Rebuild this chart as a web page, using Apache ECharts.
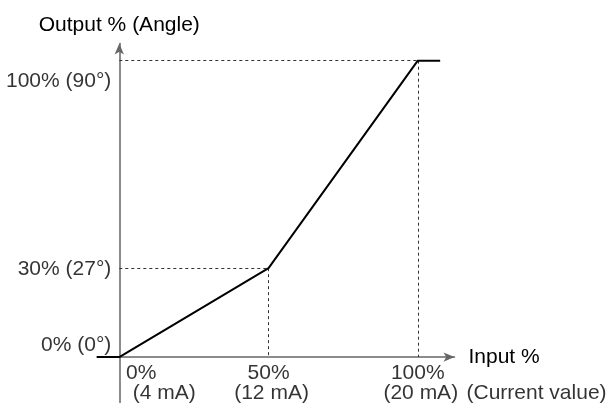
<!DOCTYPE html>
<html>
<head>
<meta charset="utf-8">
<script src="https://cdn.jsdelivr.net/npm/echarts@6/dist/echarts.min.js"></script>
<style>
html,body{margin:0;padding:0;background:#fff;}
#c{width:611px;height:403px;}
</style>
</head>
<body>
<div id="c"></div>
<script>
// ---- data ----
const inputPct = [-7.5, 0, 50, 100, 107.5];
const outputPct = [0, 0, 30, 100, 100];
const guidePoints = [[50, 30], [100, 100]];
const xTicks = [0, 50, 100];
const xTickPct = ['0%', '50%', '100%'];
const xTickMA = ['(4 mA)', '(12 mA)', '(20 mA)'];
const yTicks = [0, 30, 100];
const yTickLabels = ['0% (0°)', '30% (27°)', '100% (90°)'];
const xName = 'Input %';
const xName2 = '(Current value)';
const yName = 'Output % (Angle)';

// ---- styles ----
const FONT = "'Liberation Sans', Arial, Helvetica, sans-serif";
const FS = 21;
const X_MIN = -7.5, X_MAX = 112.3, Y_MIN = -15.5, Y_MAX = 105.8;
const yLabelDy = [-12, 1, 21];
const xPctDx = [22, 0, 0];
const xMADx = [45, 3, 3];

const chart = echarts.init(document.getElementById('c'));

const labelData = [];
yTicks.forEach((v, i) => labelData.push({
  value: [0, v],
  label: { show: true, formatter: yTickLabels[i], position: 'left', distance: 8, offset: [0, yLabelDy[i]] }
}));
xTicks.forEach((v, i) => {
  labelData.push({
    value: [v, 0],
    label: { show: true, formatter: xTickPct[i], position: 'inside', offset: [xPctDx[i], 16] }
  });
  labelData.push({
    value: [v, 0],
    label: { show: true, formatter: xTickMA[i], position: 'inside', offset: [xMADx[i], 36] }
  });
});
labelData.push({
  value: [X_MAX, 0],
  label: { show: true, formatter: xName2, position: 'right', distance: 12, offset: [0, 36] }
});

const guideLines = [];
guidePoints.forEach(p => {
  guideLines.push([{ coord: [0, p[1]] }, { coord: [p[0], p[1]] }]);
  guideLines.push([{ coord: [p[0], p[1]] }, { coord: [p[0], 0] }]);
});

const axisLineStyle = { color: '#666', width: 1.5 };

chart.setOption({
  animation: false,
  textStyle: { fontFamily: FONT },
  grid: { left: 96.9, right: 156.5, top: 43.5, bottom: 0, containLabel: false },
  xAxis: {
    type: 'value', min: X_MIN, max: X_MAX,
    name: xName, nameLocation: 'end', nameGap: 14,
    nameTextStyle: { fontSize: FS, color: '#000', fontFamily: FONT, padding: [8, 0, 0, 0] },
    axisLine: { onZero: true, lineStyle: axisLineStyle, symbol: ['none', 'arrow'], symbolSize: [7, 11] },
    axisTick: { show: false }, axisLabel: { show: false }, splitLine: { show: false }
  },
  yAxis: {
    type: 'value', min: Y_MIN, max: Y_MAX,
    name: yName, nameLocation: 'end', nameGap: 8,
    nameTextStyle: { fontSize: FS, color: '#000', fontFamily: FONT, align: 'center' },
    axisLine: { onZero: true, lineStyle: axisLineStyle, symbol: ['none', 'arrow'], symbolSize: [7, 11] },
    axisTick: { show: false }, axisLabel: { show: false }, splitLine: { show: false }
  },
  series: [
    {
      type: 'line',
      data: inputPct.map((x, i) => [x, outputPct[i]]),
      symbol: 'none',
      lineStyle: { color: '#000', width: 2 },
      z: 5,
      markLine: {
        silent: true, symbol: 'none',
        label: { show: false },
        lineStyle: { color: '#333', width: 1, type: [3, 3] },
        data: guideLines
      }
    },
    {
      type: 'scatter',
      symbolSize: 0,
      silent: true,
      label: { color: '#000', fontSize: FS, fontFamily: FONT },
      data: labelData
    }
  ]
});
</script>
</body>
</html>
